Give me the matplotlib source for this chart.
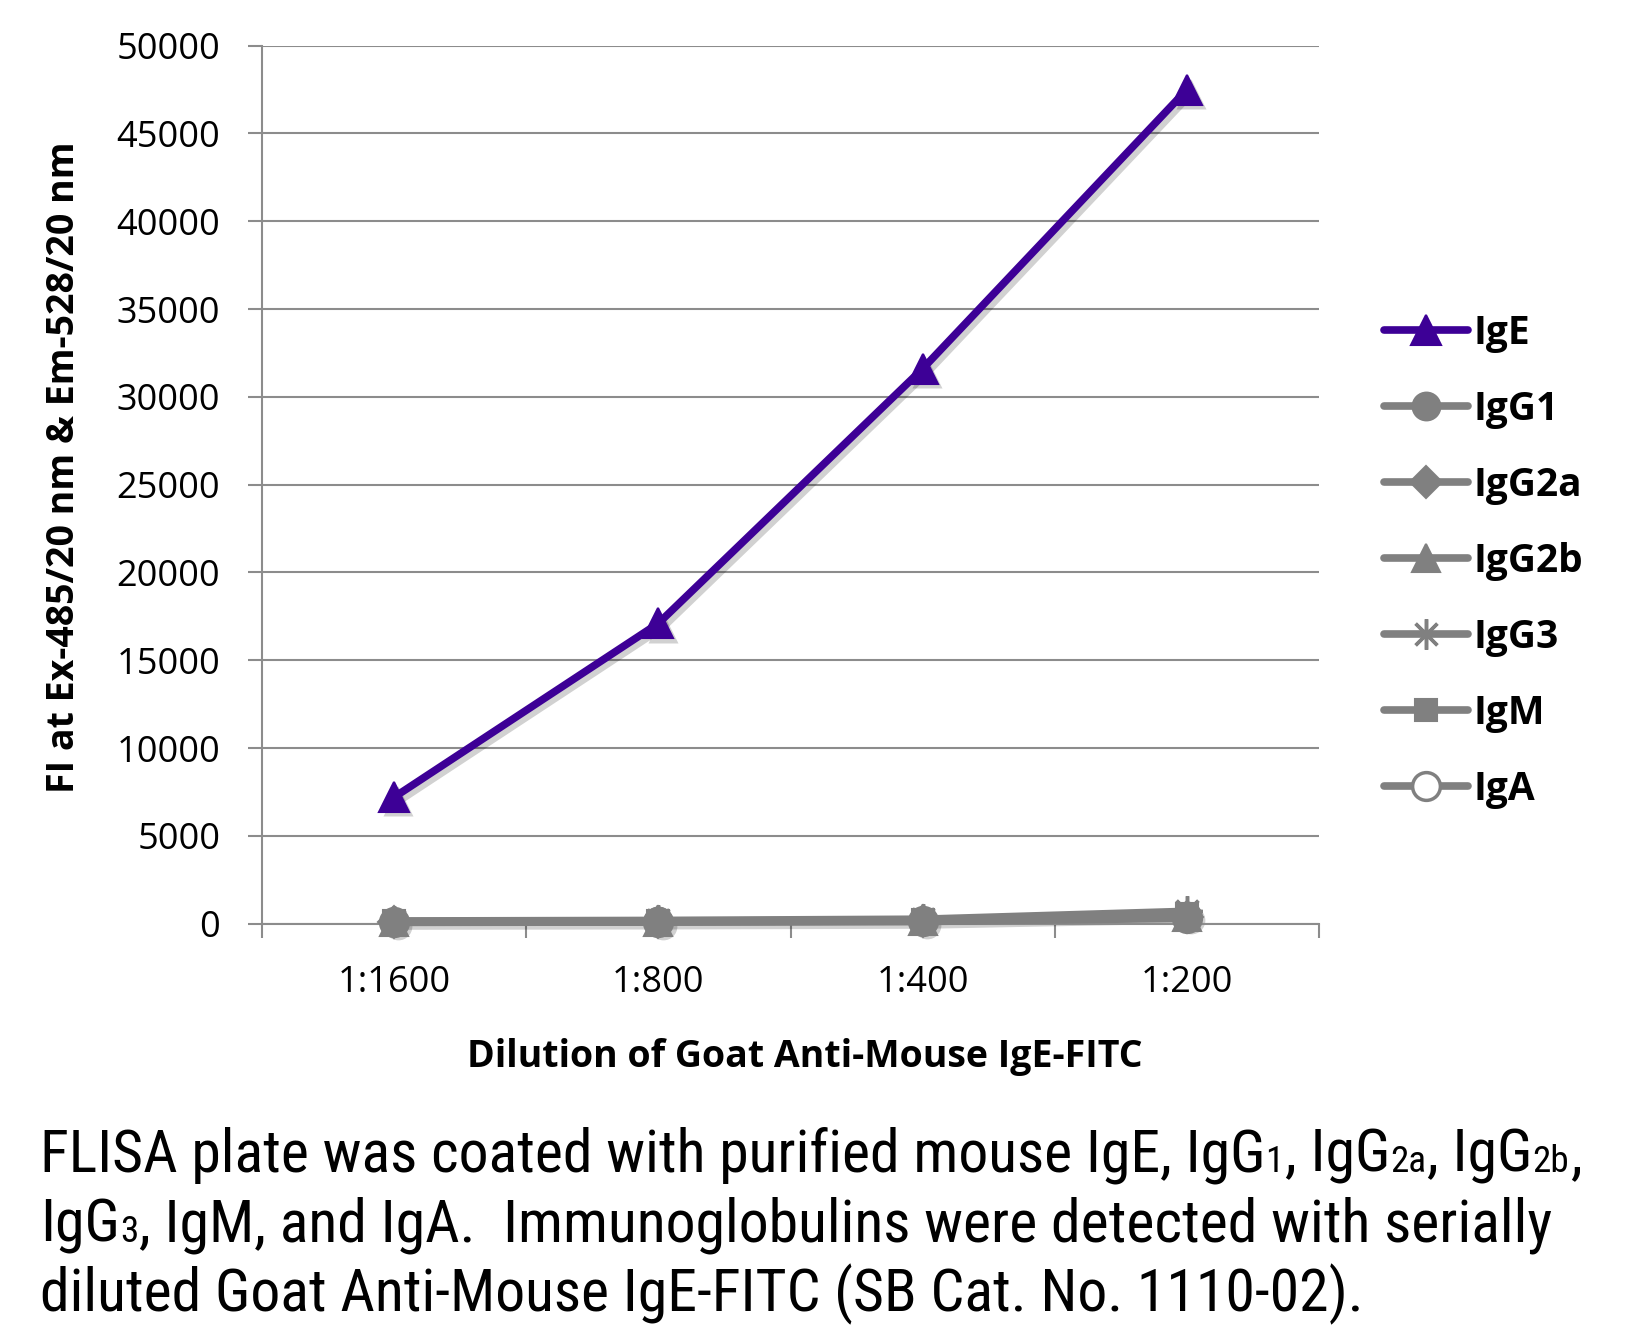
import matplotlib
matplotlib.use("Agg")
import matplotlib.pyplot as plt
import matplotlib.transforms as mtransforms
from matplotlib import font_manager

# ---------------- data ----------------
dilutions = ["1:1600", "1:800", "1:400", "1:200"]
series_names = ["IgE", "IgG1", "IgG2a", "IgG2b", "IgG3", "IgM", "IgA"]
IgE = [7200, 17100, 31600, 47500]
IgG1 = [100, 120, 160, 450]
IgG2a = [80, 100, 130, 350]
IgG2b = [90, 110, 150, 400]
IgG3 = [150, 180, 250, 700]
IgM = [120, 140, 200, 550]
IgA = [70, 90, 120, 300]
yticks = [0, 5000, 10000, 15000, 20000, 25000, 30000, 35000, 40000, 45000, 50000]

x_label = "Dilution of Goat Anti-Mouse IgE-FITC"
y_label = "FI at Ex-485/20 nm & Em-528/20 nm"

# ---------------- style ----------------
W, H = 1629, 1328
plt.rcParams['font.family'] = ['Open Sans', 'DejaVu Sans']

# pick a condensed sans for the caption if one is installed
cap_font = 'Open Sans'
cap_fp = None
pref = ['Liberation Sans Narrow', 'Roboto Condensed', 'Open Sans Condensed',
        'Noto Sans Condensed', 'Arial Narrow']
names = {f.name for f in font_manager.fontManager.ttflist}
for p in pref:
    if p in names:
        cap_font = p
        break
else:
    for f in font_manager.fontManager.ttflist:
        if (f.stretch in ('condensed', 'semi-condensed') and f.weight in (400, 'normal', 'regular')
                and f.style == 'normal'
                and any(k in f.name for k in ['Noto Sans', 'Open Sans', 'Roboto', 'Liberation Sans', 'DejaVu Sans'])):
            cap_fp = f.fname
            break

PURPLE = '#3d0096'
GRAY = '#808080'
GRID = '#8c8c8c'

fig = plt.figure(figsize=(W / 100, H / 100), dpi=100)
ax = fig.add_axes([262 / W, 1 - 923.6 / H, 1057 / W, (923.6 - 45.7) / H])

xs = [i + 0.5 for i in range(len(dilutions))]
shadow_tr = ax.transData + mtransforms.ScaledTranslation(3 / 72, -3 / 72, fig.dpi_scale_trans)

styles = {
    "IgE": dict(color=PURPLE, marker='^', ms=22, data=IgE, z=10),
    "IgG1": dict(color=GRAY, marker='o', ms=20, data=IgG1, z=8),
    "IgG2a": dict(color=GRAY, marker='D', ms=16, data=IgG2a, z=7),
    "IgG2b": dict(color=GRAY, marker='^', ms=20, data=IgG2b, z=6),
    "IgG3": dict(color=GRAY, marker=(8, 2, 0), ms=22, data=IgG3, z=9),
    "IgM": dict(color=GRAY, marker='s', ms=16, data=IgM, z=5),
    "IgA": dict(color=GRAY, marker='o', ms=20, data=IgA, z=4),
}
handles = []
for name in series_names:
    st = styles[name]
    kw = dict(color=st['color'], lw=5.5, marker=st['marker'], ms=st['ms'],
              mfc=st['color'], mec=st['color'], mew=1.5,
              solid_capstyle='round', clip_on=False, zorder=st['z'], label=name)
    if name == "IgA":
        kw.update(mfc='white', mew=2.5)
    if name == "IgG3":
        kw.update(mew=2.5)
    (ln,) = ax.plot(xs, st['data'], **kw)
    handles.append(ln)

# soft drop shadows (one for the purple series, one for the grey bundle)
for name in ["IgE", "IgG1"]:
    st = styles[name]
    ax.plot(xs, st['data'], color='k', alpha=0.18, lw=5.5, marker=st['marker'], ms=st['ms'],
            mfc='k', mec='none', solid_capstyle='round', clip_on=False, zorder=2,
            transform=shadow_tr)

ax.set_xlim(0, 4)
ax.set_ylim(0, 50000)
ax.set_yticks(yticks)
ax.set_yticklabels([str(v) for v in yticks])
ax.set_xticks([0, 1, 2, 3, 4])
ax.set_xticklabels([])
ax.set_xticks(xs, minor=True)
ax.set_xticklabels(dilutions, minor=True)
ax.tick_params(axis='x', which='major', length=10, width=1.5, color=GRID, direction='out')
ax.tick_params(axis='x', which='minor', length=0, pad=30, labelsize=26)
ax.tick_params(axis='y', which='major', length=10, width=1.5, color=GRID, pad=20, labelsize=26)
ax.grid(axis='y', color=GRID, lw=1.5, zorder=0)
ax.set_axisbelow(True)
for s in ['top', 'right']:
    ax.spines[s].set_visible(False)
for s in ['left', 'bottom']:
    ax.spines[s].set_color(GRID)
    ax.spines[s].set_linewidth(1.5)

leg = ax.legend(handles=handles, loc='upper left', bbox_to_anchor=(1384 / W, 1 - 314 / H),
                bbox_transform=fig.transFigure, frameon=False, borderpad=0, borderaxespad=0,
                handlelength=2.15, handletextpad=0.15, labelspacing=0.95,
                prop=dict(size=28, weight='bold'))

fig.text(64 / W, 1 - 467 / H, y_label, rotation=90, ha='center', va='center',
         fontsize=27, fontweight='bold')
fig.text(805 / W, 1 - 1057 / H, x_label, ha='center', va='center',
         fontsize=27, fontweight='bold')

# ---------------- caption with subscripts ----------------
cap_lines = [
    [("FLISA plate was coated with purified mouse IgE, IgG", False), ("1", True), (", IgG", False),
     ("2a", True), (", IgG", False), ("2b", True), (",", False)],
    [("IgG", False), ("3", True), (", IgM, and IgA.  Immunoglobulins were detected with serially", False)],
    [("diluted Goat Anti-Mouse IgE-FITC (SB Cat. No. 1110-02).", False)],
]
cap_baselines = [1172, 1242, 1311]
cap_left = 40
cap_width_target = 1565
renderer = fig.canvas.get_renderer()
ident = mtransforms.IdentityTransform()


def draw_line(pieces, x0, y0, fs, measure_only=False):
    x = x0
    arts = []
    for txt, sub in pieces:
        size = fs * 0.62 if sub else fs
        if cap_fp is not None:
            fp = font_manager.FontProperties(fname=cap_fp, size=size)
        else:
            fp = font_manager.FontProperties(family=cap_font, size=size)
        t = fig.text(x, y0, txt, transform=ident, fontproperties=fp,
                     ha='left', va='baseline')
        w = t.get_window_extent(renderer).width
        x += w + (1 if sub else 0)
        arts.append(t)
    if measure_only:
        for a in arts:
            a.remove()
    return x - x0


fs0 = 37
w0 = draw_line(cap_lines[0], cap_left, 0, fs0, measure_only=True)
fs = fs0 * cap_width_target / w0
fs = min(fs, 43)
for pieces, base in zip(cap_lines, cap_baselines):
    draw_line(pieces, cap_left, H - base, fs)

fig.savefig("out.png", dpi=100)
